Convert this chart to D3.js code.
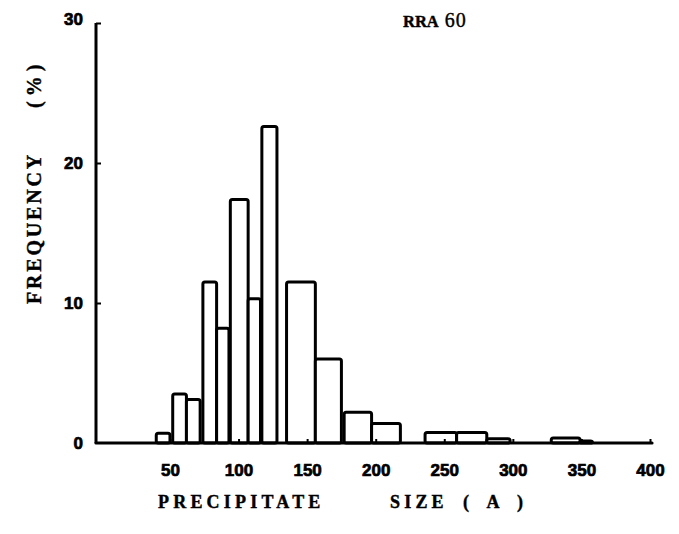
<!DOCTYPE html>
<html>
<head>
<meta charset="utf-8">
<script src="https://cdn.jsdelivr.net/npm/d3@7"></script>
<style>
  html, body { margin: 0; padding: 0; background: #fff; }
  svg { display: block; }
</style>
</head>
<body>
<svg id="chart" width="679" height="534"></svg>
<script>
// ---- data ----
const binStart = [40, 52, 62, 74, 84, 94, 107, 117, 135, 156, 177, 197, 236, 259, 281, 328, 349];
const binEnd   = [50, 62, 72, 84, 93, 107, 116, 128, 156, 175, 197, 218, 259, 281, 298, 349, 358];
const frequency = [0.7, 3.5, 3.1, 11.5, 8.2, 17.4, 10.3, 22.6, 11.5, 6.0, 2.2, 1.4, 0.75, 0.75, 0.3, 0.35, 0.15];
const xTicks = [50, 100, 150, 200, 250, 300, 350, 400];
const yTicks = [0, 10, 20, 30];
const title = ["RRA", "60"];
const xLabel = ["PRECIPITATE", "SIZE", "( A )"];
const yLabel = ["FREQUENCY", "(%)"];

const svg = d3.select("#chart");
const x = d3.scaleLinear().domain([0, 400]).range([101.4, 650]);
const y = d3.scaleLinear().domain([0, 30]).range([443, 23]);
const axisX = 96;
const serif = "'Liberation Serif', 'Times New Roman', serif";

const bins = binStart.map((s, i) => ({ x0: s, x1: binEnd[i], v: frequency[i] }));

// bars
svg.append("g").selectAll("rect").data(bins).join("rect")
  .attr("x", d => x(d.x0))
  .attr("y", d => y(d.v))
  .attr("width", d => x(d.x1) - x(d.x0))
  .attr("height", d => y(0) - y(d.v))
  .attr("rx", 2)
  .attr("fill", "#fff")
  .attr("stroke", "#000")
  .attr("stroke-width", 3);

// baseline (x axis)
const xAxis = d3.axisBottom(x).tickValues(xTicks).tickSize(0).tickPadding(21).tickFormat(d3.format("d"));
const gx = svg.append("g").attr("transform", `translate(0,${y(0)})`).call(xAxis);
gx.select(".domain").remove();
gx.append("line").attr("x1", axisX).attr("x2", 652).attr("y1", 0).attr("y2", 0)
  .attr("stroke", "#000").attr("stroke-width", 3.2).attr("stroke-linecap", "round");
gx.selectAll(".tick").append("line").attr("y1", 0).attr("y2", -4).attr("stroke", "#000").attr("stroke-width", 2);
gx.selectAll(".tick text")
  .attr("font-family", "'Liberation Sans', Arial, sans-serif")
  .attr("font-weight", "bold").attr("font-size", 17).attr("fill", "#000")
  .attr("stroke", "#000").attr("stroke-width", 0.7);

// y axis
const yAxis = d3.axisLeft(y).tickValues(yTicks).tickSize(0).tickPadding(13).tickFormat(d3.format("d"));
const gy = svg.append("g").attr("transform", `translate(${axisX},0)`).call(yAxis);
gy.select(".domain").remove();
gy.append("line").attr("x1", 0).attr("x2", 0).attr("y1", y(30)).attr("y2", y(0))
  .attr("stroke", "#000").attr("stroke-width", 3);
gy.selectAll(".tick").filter(d => d > 0).append("line").attr("x1", 0).attr("x2", 5)
  .attr("stroke", "#000").attr("stroke-width", 2);
gy.selectAll(".tick text")
  .attr("font-family", "'Liberation Sans', Arial, sans-serif")
  .attr("font-weight", "bold").attr("font-size", 17).attr("fill", "#000")
  .attr("stroke", "#000").attr("stroke-width", 0.7);
gy.selectAll(".tick").filter(d => d === 30).select("text").attr("dy", "0.1em");

// title
const t = svg.append("text").attr("x", 403).attr("y", 27)
  .attr("font-family", serif).attr("fill", "#000").attr("font-size", 16.5)
  .attr("stroke", "#000").attr("stroke-width", 0.4);
t.append("tspan").attr("font-weight", "bold").text(title[0]);
t.append("tspan").attr("dx", 6).attr("font-size", 20).attr("letter-spacing", 1).text(title[1]);

// x label
const xl = svg.append("text").attr("y", 508)
  .attr("font-family", serif).attr("font-weight", "bold")
  .attr("font-size", 18).attr("letter-spacing", 4.2).attr("fill", "#000")
  .attr("stroke", "#000").attr("stroke-width", 0.4);
xl.append("tspan").attr("x", 158).text(xLabel[0]);
xl.append("tspan").attr("x", 390).text(xLabel[1]);
xl.append("tspan").attr("x", 463).attr("letter-spacing", 7).style("white-space", "pre").text(xLabel[2]);

// y label
const yl = svg.append("text").attr("transform", "translate(41,304) rotate(-90)")
  .attr("font-family", serif).attr("font-weight", "bold")
  .attr("font-size", 20).attr("letter-spacing", 2.8).attr("fill", "#000")
  .attr("stroke", "#000").attr("stroke-width", 0.4);
yl.append("tspan").attr("x", 0).text(yLabel[0]);
yl.append("tspan").attr("x", 196).attr("letter-spacing", 5).text(yLabel[1]);
</script>
</body>
</html>
